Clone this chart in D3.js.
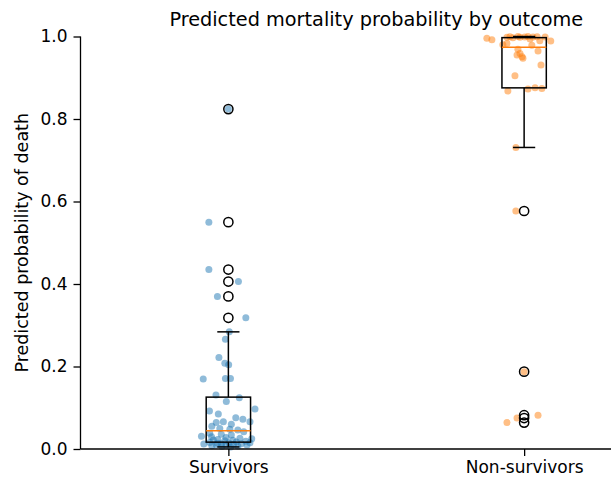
<!DOCTYPE html>
<html>
<head>
<meta charset="utf-8">
<script src="https://cdn.jsdelivr.net/npm/d3@7"></script>
<style>
  body { margin: 0; background: #fff; }
  text { font-family: "DejaVu Sans", sans-serif; }
</style>
</head>
<body>
<svg id="chart" width="611" height="481"></svg>
<script>
// categories
const groups = ["Survivors", "Non-survivors"];

// predicted probabilities, with the horizontal jitter (category units)
const survivorValues = [
  0.824, 0.550, 0.435, 0.406, 0.370, 0.318, 0.284, 0.266, 0.222, 0.208,
  0.204, 0.171, 0.171, 0.170, 0.131, 0.124, 0.115, 0.097, 0.092, 0.085,
  0.076, 0.072, 0.066, 0.066, 0.064, 0.060, 0.055, 0.050, 0.048, 0.046,
  0.042, 0.038, 0.036, 0.034, 0.031, 0.030, 0.028, 0.026, 0.025, 0.023,
  0.022, 0.021, 0.020, 0.019, 0.017, 0.0155, 0.015, 0.0145, 0.014, 0.013,
  0.0125, 0.012, 0.011, 0.0105, 0.010, 0.009, 0.008, 0.007, 0.006, 0.005
];
const survivorJitter = [
  0.000, -0.066, -0.066, 0.034, -0.037, 0.059, 0.003, -0.010, -0.032, -0.012,
  0.001, -0.010, 0.007, -0.085, -0.042, 0.037, -0.007, 0.090, -0.064, -0.034,
  0.025, 0.049, 0.073, -0.017, -0.041, 0.010, -0.056, -0.029, 0.005, 0.032,
  0.052, -0.063, -0.024, 0.010, -0.091, -0.057, -0.008, 0.039, 0.079, -0.036,
  -0.051, 0.015, -0.012, 0.059, 0.027, -0.063, 0.073, 0.002, -0.036, -0.024,
  0.044, -0.083, 0.017, -0.041, 0.063, -0.007, -0.056, 0.032, -0.022, 0.008
];

const nonSurvivorValues = [
  0.9999, 0.9997, 0.9995, 0.9995, 0.999, 0.999, 0.999, 0.998, 0.998, 0.997,
  0.996, 0.994, 0.992, 0.990, 0.989, 0.983, 0.980, 0.979, 0.969, 0.965,
  0.959, 0.955, 0.951, 0.947, 0.931, 0.905, 0.876, 0.874, 0.873, 0.868,
  0.731, 0.577, 0.1875, 0.082, 0.075, 0.064
];
const nonSurvivorJitter = [
  0.013, -0.021, 0.044, -0.048, 0.071, 0.030, 0.002, -0.014, -0.058, -0.038,
  -0.126, 0.020, -0.109, 0.053, 0.090, -0.058, -0.072, 0.026, -0.021, 0.047,
  -0.014, -0.024, -0.007, -0.004, 0.057, -0.031, 0.037, 0.060, 0.013, -0.055,
  -0.028, -0.028, 0.000, 0.047, -0.024, -0.058
];

const yTicks = [0, 0.2, 0.4, 0.6, 0.8, 1.0];
const pointColors = ["#1f77b4", "#ff7f0e"];

const svg = d3.select("#chart");
const margin = { top: 36.5, left: 80.5 };
const plotW = 591.5, plotH = 412.5;

const x = d3.scaleLinear().domain([0.5, 2.5]).range([margin.left, margin.left + plotW]);
const y = d3.scaleLinear().domain([0, 1]).range([margin.top + plotH, margin.top]);

const series = [
  { values: survivorValues, jitter: survivorJitter },
  { values: nonSurvivorValues, jitter: nonSurvivorJitter }
];

function boxStats(vals) {
  const s = vals.slice().sort(d3.ascending);
  const q1 = d3.quantileSorted(s, 0.25), med = d3.quantileSorted(s, 0.5), q3 = d3.quantileSorted(s, 0.75);
  const iqr = q3 - q1;
  const inside = s.filter(v => v >= q1 - 1.5 * iqr && v <= q3 + 1.5 * iqr);
  return { q1, med, q3, lo: d3.min(inside), hi: d3.max(inside),
    fliers: s.filter(v => v < q1 - 1.5 * iqr || v > q3 + 1.5 * iqr) };
}

// jittered points (under the box lines, like matplotlib)
series.forEach((sr, i) => {
  svg.append("g").selectAll("circle")
    .data(sr.values)
    .join("circle")
    .attr("cx", (d, k) => x(i + 1 + sr.jitter[k]))
    .attr("cy", d => y(d))
    .attr("r", 3.5)
    .attr("fill", pointColors[i])
    .attr("fill-opacity", 0.5);
});

// boxplots
const boxW = 0.15, capW = 0.075;
series.forEach((sr, i) => {
  const st = boxStats(sr.values);
  const c = i + 1;
  const g = svg.append("g").attr("stroke", "#000").attr("stroke-width", 1.5).attr("fill", "none");
  g.append("line").attr("x1", x(c)).attr("x2", x(c)).attr("y1", y(st.q3)).attr("y2", y(st.hi));
  g.append("line").attr("x1", x(c)).attr("x2", x(c)).attr("y1", y(st.q1)).attr("y2", y(st.lo));
  g.append("line").attr("x1", x(c - capW / 2)).attr("x2", x(c + capW / 2)).attr("y1", y(st.hi)).attr("y2", y(st.hi));
  g.append("line").attr("x1", x(c - capW / 2)).attr("x2", x(c + capW / 2)).attr("y1", y(st.lo)).attr("y2", y(st.lo));
  g.append("rect")
    .attr("x", x(c - boxW / 2)).attr("width", x(c + boxW / 2) - x(c - boxW / 2))
    .attr("y", y(st.q3)).attr("height", y(st.q1) - y(st.q3));
  g.append("line").attr("stroke", "#ff7f0e")
    .attr("x1", x(c - boxW / 2)).attr("x2", x(c + boxW / 2)).attr("y1", y(st.med)).attr("y2", y(st.med));
  g.selectAll("circle.flier")
    .data(st.fliers)
    .join("circle")
    .attr("class", "flier")
    .attr("cx", x(c)).attr("cy", d => y(d))
    .attr("r", 4.6);
});

// axes
const yAxis = svg.append("g")
  .attr("transform", `translate(${margin.left},0)`)
  .call(d3.axisLeft(y).tickValues(yTicks).tickFormat(d3.format(".1f")).tickSize(7).tickPadding(6));
const xAxis = svg.append("g")
  .attr("transform", `translate(0,${margin.top + plotH})`)
  .call(d3.axisBottom(x).tickValues([1, 2]).tickFormat(d => groups[d - 1]).tickSize(7).tickPadding(5));
[yAxis, xAxis].forEach(a => {
  a.selectAll("text").attr("font-size", 17).attr("fill", "#000").attr("font-family", "DejaVu Sans");
  a.selectAll("line, path").attr("stroke", "#000").attr("stroke-width", 1.3);
});
yAxis.select(".domain").attr("d", `M0,${y(1)}V${y(0)}`);
xAxis.select(".domain").attr("d", `M${margin.left},0H${margin.left + plotW}`);

svg.append("text")
  .attr("x", x(1.5)).attr("y", 26)
  .attr("text-anchor", "middle").attr("font-size", 19.3)
  .text("Predicted mortality probability by outcome");

svg.append("text")
  .attr("transform", `translate(28,${y(0.5)}) rotate(-90)`)
  .attr("text-anchor", "middle").attr("font-size", 17.5)
  .text("Predicted probability of death");
</script>
</body>
</html>
